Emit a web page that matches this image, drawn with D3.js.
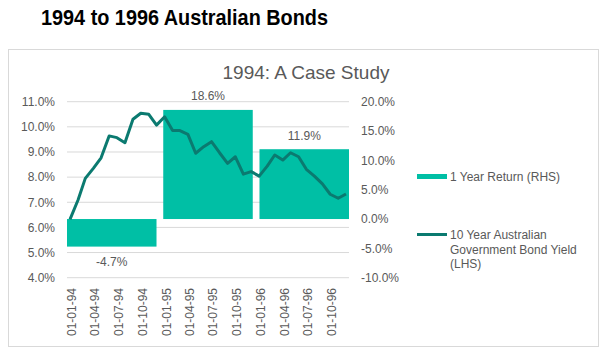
<!DOCTYPE html>
<html><head><meta charset="utf-8">
<script src="https://cdn.jsdelivr.net/npm/d3@7/dist/d3.min.js"></script>
<style>
html,body{margin:0;padding:0;background:#fff;}
svg{display:block;font-family:"Liberation Sans",Arial,sans-serif;}
</style></head>
<body>
<svg id="c" width="609" height="353"></svg>
<script>
// ---- data ----
const years = ["1994", "1995", "1996"];
const yearReturns = [-4.7, 18.6, 11.9];           // 1 Year Return (RHS), %
const bondYield = [                                // 10 Year Aus Govt Bond Yield (LHS), %, monthly Jan-94..Dec-96
  6.32, 7.09, 7.95, 8.35, 8.77, 9.64, 9.57, 9.37, 10.30, 10.54, 10.50, 10.07,
  10.40, 9.85, 9.85, 9.70, 8.95, 9.21, 9.41, 8.97, 8.55, 8.81, 8.12, 8.22,
  8.04, 8.44, 8.88, 8.68, 8.97, 8.81, 8.31, 8.04, 7.73, 7.32, 7.16, 7.33
];
const xTickLabels = ["01-01-94","01-04-94","01-07-94","01-10-94","01-01-95","01-04-95",
                     "01-07-95","01-10-95","01-01-96","01-04-96","01-07-96","01-10-96"];
const leftTicks = [4, 5, 6, 7, 8, 9, 10, 11];
const rightTicks = [-10, -5, 0, 5, 10, 15, 20];

const months = d3.timeMonth.range(new Date(1994, 0, 1), new Date(1997, 0, 1));
const parseTick = d3.timeParse("%d-%m-%y");

const svg = d3.select("#c");
const grey = "#595959";
const barColor = "#00BFA5";
const lineColor = "#0B7A70";
const FS = 12;
const pct = d => (d < 0 ? "-" : "") + Math.abs(d).toFixed(1) + "%";

// titles & frame
svg.append("text").attr("x", 41).attr("y", 24.5).attr("font-size", 21.5).attr("font-weight", "bold")
  .attr("fill", "#000").attr("textLength", 287).attr("lengthAdjust", "spacingAndGlyphs")
  .text("1994 to 1996 Australian Bonds");
svg.append("rect").attr("x", 8.5).attr("y", 49.5).attr("width", 590).attr("height", 297)
  .attr("fill", "#fff").attr("stroke", "#D9D9D9");
svg.append("text").attr("x", 306).attr("y", 78.5).attr("text-anchor", "middle").attr("font-size", 19)
  .attr("fill", grey).text("1994: A Case Study");

// scales
const xL = 67, xR = 349;
const x = d3.scaleTime().domain([months[0], months[months.length - 1]]).range([70, 346]);
const xb = d3.scaleBand().domain(years).range([xL, xR]).paddingInner(0.07).paddingOuter(0);
const yL = d3.scaleLinear().domain([4, 11]).range([277.7, 101.7]);
const yR = d3.scaleLinear().domain([-10, 20]).range([277.7, 101.7]);

// gridlines
svg.append("g").selectAll("line").data(leftTicks).join("line")
  .attr("x1", xL).attr("x2", xR).attr("y1", d => yL(d)).attr("y2", d => yL(d))
  .attr("stroke", "#D9D9D9").attr("stroke-width", 1);

// left axis
const gl = svg.append("g").attr("transform", "translate(55,0)")
  .call(d3.axisLeft(yL).tickValues(leftTicks).tickSize(0).tickPadding(0).tickFormat(pct));
gl.select(".domain").remove();
gl.selectAll("text").attr("font-size", FS).attr("fill", grey).attr("font-family", "Liberation Sans, Arial, sans-serif");

// right axis
const gr = svg.append("g").attr("transform", "translate(361,0)")
  .call(d3.axisRight(yR).tickValues(rightTicks).tickSize(0).tickPadding(0).tickFormat(pct));
gr.select(".domain").remove();
gr.selectAll("text").attr("font-size", FS).attr("fill", grey).attr("font-family", "Liberation Sans, Arial, sans-serif");

// bars
svg.append("g").selectAll("rect").data(years).join("rect")
  .attr("x", d => xb(d)).attr("width", xb.bandwidth())
  .attr("y", (d, i) => yR(Math.max(0, yearReturns[i])))
  .attr("height", (d, i) => Math.abs(yR(yearReturns[i]) - yR(0)))
  .attr("fill", barColor);

// bar labels
svg.append("g").selectAll("text").data(years).join("text")
  .attr("x", d => xb(d) + xb.bandwidth() / 2)
  .attr("y", (d, i) => yearReturns[i] >= 0 ? yR(yearReturns[i]) - 9.5 : yR(yearReturns[i]) + 19.5)
  .attr("text-anchor", "middle").attr("font-size", FS).attr("fill", grey)
  .text((d, i) => pct(yearReturns[i]));

// line
const line = d3.line().x((d, i) => x(months[i])).y(d => yL(d));
svg.append("path").datum(bondYield).attr("d", line).attr("fill", "none")
  .attr("stroke", lineColor).attr("stroke-width", 3).attr("stroke-linejoin", "round");

// x axis labels
const gx = svg.append("g").attr("transform", "translate(0,288)")
  .call(d3.axisBottom(x).tickValues(xTickLabels.map(parseTick)).tickSize(0).tickPadding(0)
    .tickFormat((d, i) => xTickLabels[i]));
gx.select(".domain").remove();
gx.selectAll("text").attr("font-size", FS).attr("fill", grey).attr("font-family", "Liberation Sans, Arial, sans-serif")
  .attr("text-anchor", "end").attr("dy", null).attr("y", 0)
  .attr("transform", "translate(5.5,0) rotate(-90)");

// legend
const lg = svg.append("g");
lg.append("rect").attr("x", 417).attr("y", 174).attr("width", 30).attr("height", 5).attr("fill", barColor);
lg.append("text").attr("x", 450).attr("y", 181).attr("font-size", FS).attr("fill", grey).text("1 Year Return (RHS)");
lg.append("line").attr("x1", 417).attr("x2", 447).attr("y1", 234.5).attr("y2", 234.5)
  .attr("stroke", lineColor).attr("stroke-width", 3);
const lt = lg.append("text").attr("font-size", FS).attr("fill", grey);
["10 Year Australian", "Government Bond Yield", "(LHS)"].forEach((s, i) =>
  lt.append("tspan").attr("x", 450).attr("y", 239 + i * 14.5).text(s));
</script>
</body></html>
